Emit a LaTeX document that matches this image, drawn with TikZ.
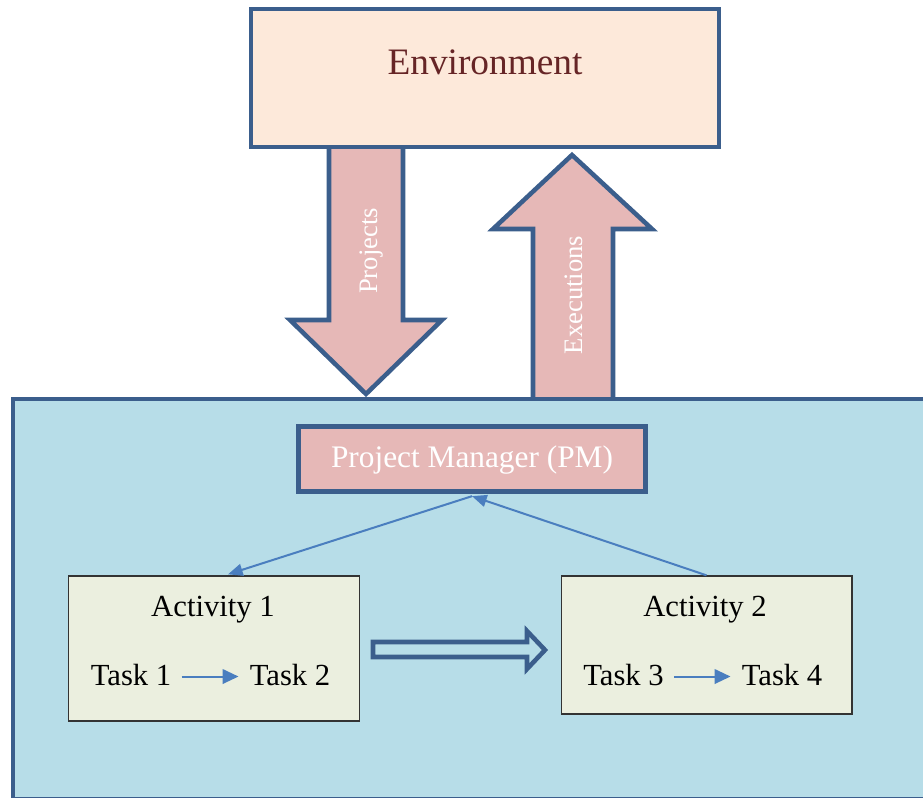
\documentclass[tikz,border=0pt]{standalone}
\usepackage{fontspec}
\setmainfont{Liberation Serif}
\usetikzlibrary{arrows.meta,calc}
\definecolor{edgeblue}{HTML}{3B5E8C}
\definecolor{envfill}{HTML}{FDE9DA}
\definecolor{envtext}{HTML}{662526}
\definecolor{pinkfill}{HTML}{E6B8B7}
\definecolor{bgblue}{HTML}{B7DDE8}
\definecolor{actfill}{HTML}{EBEFDF}
\definecolor{flowblue}{HTML}{4A7EBF}
\begin{document}
\begin{tikzpicture}[x=0.75pt,y=-0.75pt,
  envbox/.style={draw=edgeblue,fill=envfill,line width=3.4pt,inner sep=0,
    minimum width=351pt,minimum height=103.5pt},
  pmbox/.style={draw=edgeblue,fill=pinkfill,line width=4pt,inner sep=0,
    minimum width=260pt,minimum height=48.75pt},
  actbox/.style={draw=black!80,fill=actfill,line width=1pt,inner sep=0,
    minimum width=218pt},
  blockarrow/.style={draw=edgeblue,fill=pinkfill,line width=3.4pt,line join=miter},
  hollowarrow/.style={draw=edgeblue,line width=3.4pt,line join=miter},
  txt/.style={inner sep=0,anchor=base},
  bigtxt/.style={txt,font=\fontsize{28}{32}\selectfont},
  midtxt/.style={txt,font=\fontsize{23}{27}\selectfont},
  arrtxt/.style={inner sep=0,anchor=base,rotate=90,text=white,font=\fontsize{20}{24}\selectfont},
  flow/.style={draw=flowblue,line width=1.5pt,-{Triangle[length=11pt,width=9pt]}},
  taskflow/.style={draw=flowblue,line width=1.5pt,-{Triangle[length=12pt,width=11pt]}}
]
\useasboundingbox (0,0) rectangle (923,798);
\clip (0,0) rectangle (923,798);
\fill[white] (0,0) rectangle (923,798);

% block arrows
\draw[blockarrow] (329,148) -- (329,320) -- (290,320) -- (366,394) -- (442,320) -- (403,320) -- (403,148);
\draw[blockarrow] (533,402) -- (533,229) -- (493,229) -- (572,155) -- (652,229) -- (613,229) -- (613,402);

% large environment region
\draw[draw=edgeblue,fill=bgblue,line width=3.5pt] (13,399) rectangle (950,799);

% top box
\node[envbox] (env) at (485,78) {};
\node[bigtxt,text=envtext] (envlabel) at (485,75) {Environment};

\node[arrtxt] (projlabel) at (377,251) {Projects};
\node[arrtxt] (execlabel) at (582,295) {Executions};

% project manager
\node[pmbox] (pm) at (472,459) {};
\node[midtxt,text=white,font=\fontsize{23.5}{27}\selectfont] (pmlabel) at (472,467) {Project Manager (PM)};

% activities
\node[actbox,minimum height=108.75pt] (act1) at (214,648.5) {};
\node[actbox,minimum height=103.5pt] (act2) at (706.5,645) {};

\node[midtxt] (a1label) at (213,616) {Activity 1};
\node[midtxt] (a2label) at (705,616) {Activity 2};
\node[midtxt] (task1) at (131,685) {Task 1};
\node[midtxt] (task2) at (290,685) {Task 2};
\node[midtxt] (task3) at (623.5,685) {Task 3};
\node[midtxt] (task4) at (782,685) {Task 4};

\draw[taskflow] ($(task1.east)+(10,2)$) -- ($(task2.west)+(-11,2)$);
\draw[taskflow] ($(task3.east)+(10,2)$) -- ($(task4.west)+(-11,2)$);

% hollow arrow between activities
\draw[hollowarrow] (373,642) -- (527,642) -- (527,631) -- (545,650) -- (527,669) -- (527,657) -- (373,657) -- cycle;

% PM links
\draw[flow] ($(pm.south)+(0,2)$) -- ($(act1.north)+(14,-1)$);
\draw[flow] (act2.north) -- ($(pm.south)+(0,2)$);
\end{tikzpicture}
\end{document}
